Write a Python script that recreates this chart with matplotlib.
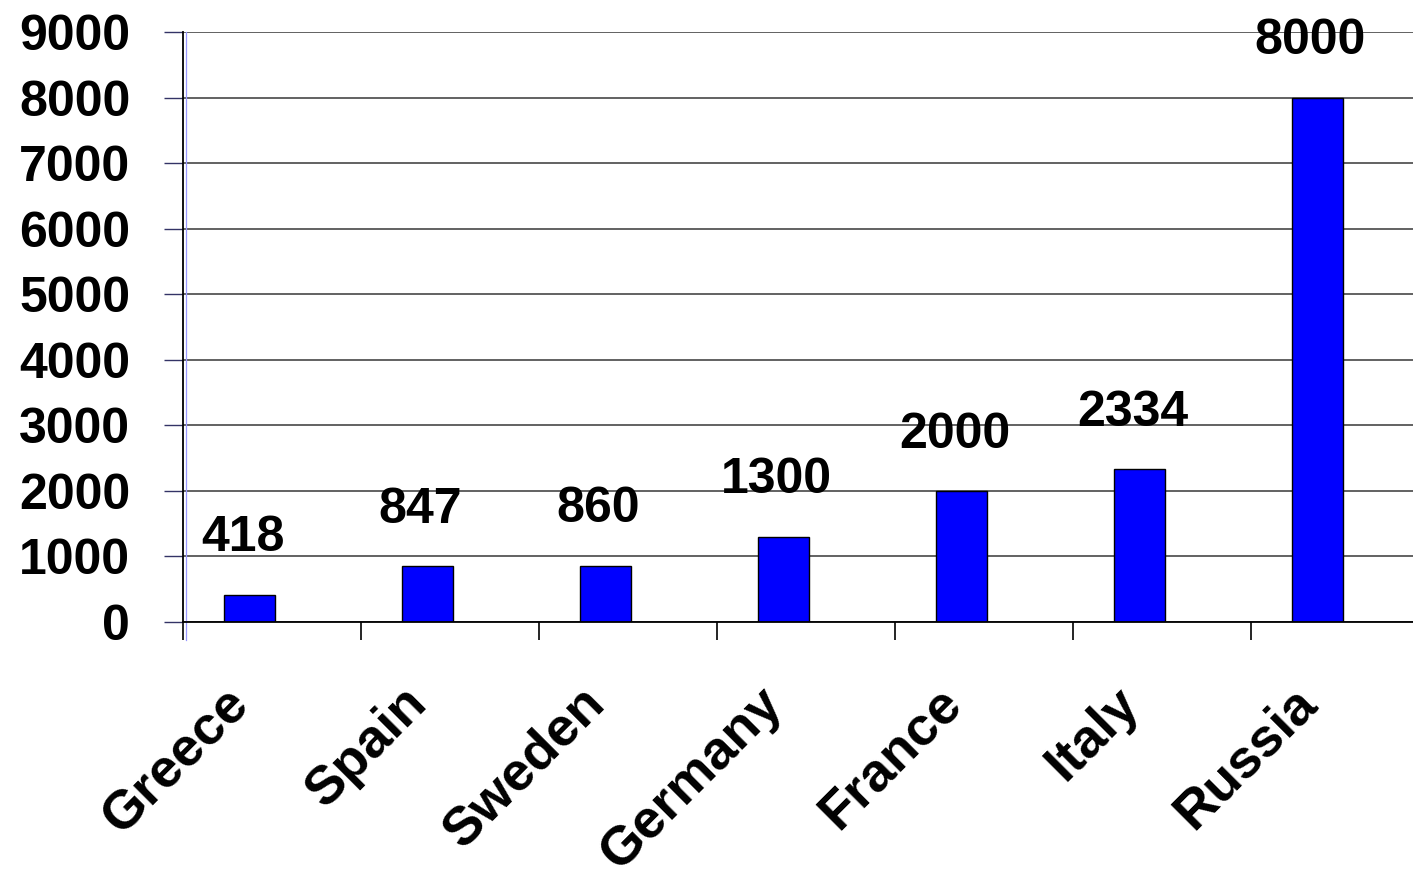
import numpy as np
import matplotlib.pyplot as plt

countries = ['Greece', 'Spain', 'Sweden', 'Germany', 'France', 'Italy', 'Russia']
values = [418, 847, 860, 1300, 2000, 2334, 8000]
yticks = [0, 1000, 2000, 3000, 4000, 5000, 6000, 7000, 8000, 9000]

plt.rcParams['font.family'] = ['Liberation Sans', 'DejaVu Sans']
plt.rcParams['font.weight'] = 'bold'

fig = plt.figure(figsize=(14.13, 8.73), dpi=100)
ax = fig.add_axes([183 / 1413, 251 / 873, 1230 / 1413, 590 / 873])

x = np.arange(len(countries))
ax.bar(x, values, width=0.29, color='#0000ff', edgecolor='black', linewidth=1.0, zorder=3)

# value labels above the bars
for xi, v in zip(x, values):
    ax.annotate(str(v), (xi, v), xytext=(-5, 24), textcoords='offset points',
                ha='center', va='bottom', fontsize=36, fontweight='bold')

ax.set_xlim(-0.374, 6.537)
ax.set_ylim(0, 9000)

# horizontal grid
ax.set_yticks(yticks)
ax.set_yticklabels([str(t) for t in yticks], fontsize=36, fontweight='bold')
ax.yaxis.grid(True, color='#555555', linewidth=1.3, zorder=1)
ax.tick_params(axis='y', length=14, width=1.0, color='#333366', pad=24)

# category boundary ticks, no labels
ax.set_xticks(x - 0.374)
ax.set_xticklabels([])
ax.tick_params(axis='x', length=13, width=1.2, color='black')

# rotated category names under each bar
for xi, name in zip(x, countries):
    ax.annotate(name, (xi, 0), xycoords=('data', 'axes fraction'),
                xytext=(-6, -53), textcoords='offset points',
                rotation=45, rotation_mode='anchor', ha='right', va='center',
                fontsize=39, fontweight='bold', annotation_clip=False)

for s in ['top', 'right']:
    ax.spines[s].set_visible(False)
ax.spines['left'].set_bounds(0, 9000)
ax.spines['left'].set_linewidth(1.3)
ax.spines['bottom'].set_linewidth(1.3)
ax.spines['bottom'].set_zorder(4)

# faint blue secondary axis line
ax.axvline(-0.374 + 0.018, ymin=-0.03, ymax=1, color='#9999ff', linewidth=0.9, clip_on=False, zorder=2)

fig.savefig('out.png', dpi=100)
